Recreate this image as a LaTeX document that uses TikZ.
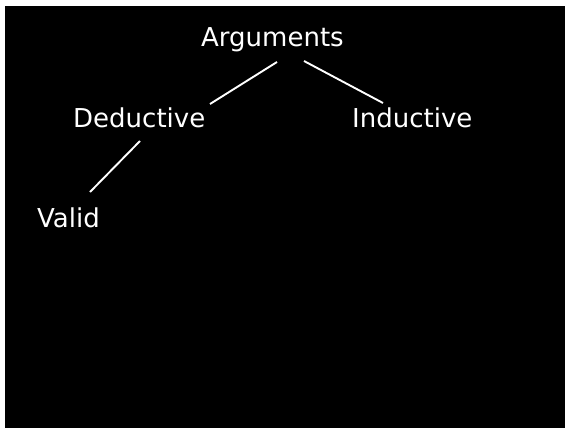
\documentclass[tikz,border=0pt]{standalone}
\usepackage{fontspec}
\setmainfont{DejaVu Sans}
\usetikzlibrary{positioning}

\tikzset{
  term/.style={anchor=base west,inner sep=0pt,text=white,
               font=\fontsize{26}{29}\selectfont,text height=19pt,text depth=0pt},
  branch/.style={white,line width=1.9pt}
}

\begin{document}
\begin{tikzpicture}[x=1pt,y=-1pt]
    % page and black panel
    \useasboundingbox (0,0) rectangle (565,428);
    \fill[black] (5,6) rectangle (565,428);

    \node[term] (args) at (201,47) {Arguments};
    \node[term] (deduct) at (73,127) {Deductive};
    \node[term] (induct) at (352,127) {Inductive};
    \node[term] (valid) at (37,227) {Valid};

    \draw[branch] ([shift={(76,15)}]args.base west) -- ([shift={(137,-23)}]deduct.base west);
    \draw[branch] ([shift={(103,14)}]args.base west) -- ([shift={(31,-24)}]induct.base west);
    \draw[branch] ([shift={(67,14)}]deduct.base west) -- ([shift={(53,-35)}]valid.base west);
\end{tikzpicture}
\end{document}
